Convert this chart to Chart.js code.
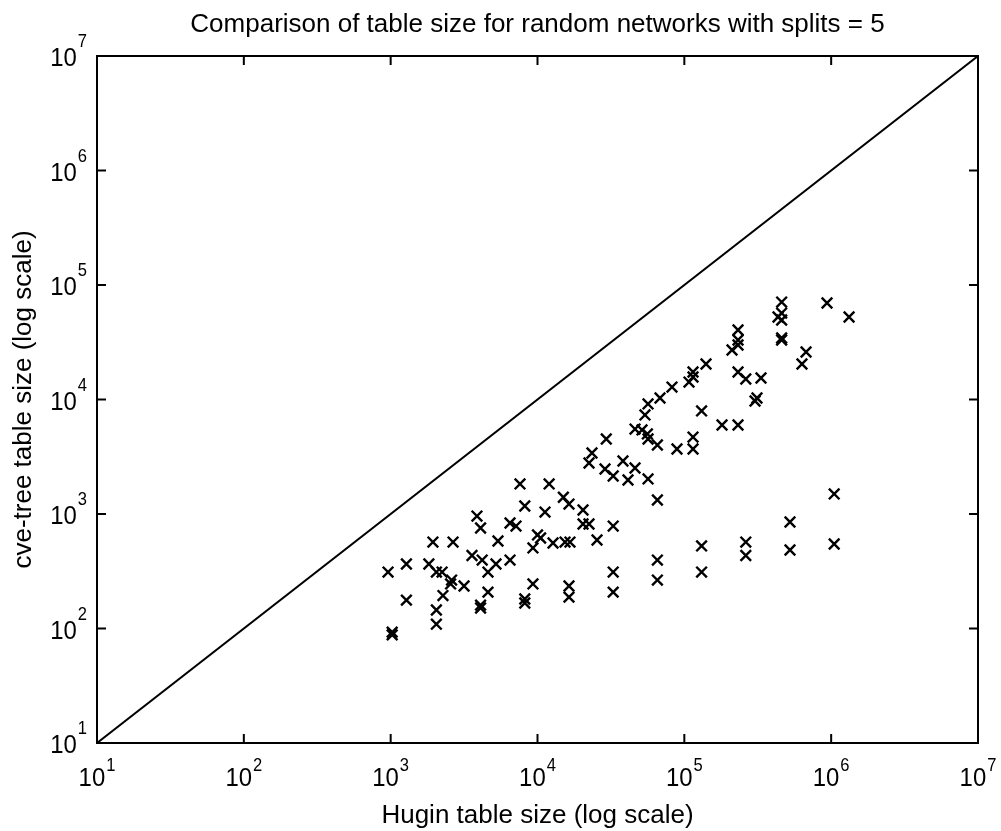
<!DOCTYPE html>
<html>
<head>
<meta charset="utf-8">
<title>Comparison of table size</title>
<script src="https://cdn.jsdelivr.net/npm/chart.js@4.4.1/dist/chart.umd.min.js"></script>
<style>
    html, body { margin: 0; padding: 0; background: #fff; }
    #wrap { width: 1001px; height: 831px; }
</style>
</head>
<body>
<div id="wrap"><canvas id="tableChart" width="1001" height="831"></canvas></div>
<script>
// Hugin table size (x) and cve-tree table size (y) for each random network
const huginSize = [
    7600, 12000, 15000, 8192, 11250, 3870, 4096, 6500, 7140, 5380,
    10000, 10500, 9310, 12760, 15400, 16640, 1940, 2660, 3580, 4200,
    5215, 4600, 6500, 960, 1280, 1820, 2048, 2240, 2600, 2560,
    3160, 2270, 4600, 4096, 4096, 9310, 8192, 8192, 1280, 2048,
    2048, 1024, 1024, 16384, 16384,
    56600, 68300, 53950, 131072, 303000, 180600, 232100, 46150, 51500, 56000,
    56600, 65536, 114600, 114600, 89100, 29400, 23500, 22430, 38200, 46150,
    28830, 32768, 41340, 56600, 65536, 16384, 20420, 20420, 22430, 32768,
    25430, 131072, 262144, 262144, 524288, 524288, 1048576, 1048576, 65536, 32768,
    65536, 131072, 32768,
    460000, 460000, 434500, 460000, 460000, 460000, 937000, 1324000, 232100, 232100,
    232100, 211200, 674400, 632600, 140500, 114600, 114600, 107600, 82400, 232100,
    262144, 332700, 312400
];
const cveTreeSize = [
    1830, 1830, 1400, 1175, 1040, 960, 755, 834, 785, 581,
    656, 617, 505, 558, 569, 569, 569, 569, 434, 396,
    366, 311, 396, 311, 366, 366, 311, 311, 265, 245,
    235, 194, 208, 160, 151, 245, 181, 167, 177, 145,
    109, 93, 88, 235, 188,
    9140, 10310, 7330, 7940, 9700, 5990, 5990, 5520, 5420, 5000,
    4520, 4005, 4700, 3695, 3695, 4520, 3410, 2788, 2904, 2521,
    2472, 2148, 1982, 2023, 1325, 1222, 1084, 818, 818, 785,
    593, 526, 569, 434, 851, 485, 1496, 547, 396, 311,
    265, 311, 208,
    71000, 56900, 52540, 49460, 34450, 33100, 69650, 52540, 40460, 33100,
    29920, 27050, 25990, 20420, 20420, 17390, 15730, 14210, 12850, 17390,
    15100, 15410, 10310
];

// reference line y = x
const diagonalX = [10, 10000000];
const diagonalY = [10, 10000000];

// decade exponents used for ticks and tick labels
const decadeExponents = [1, 2, 3, 4, 5, 6, 7];

const titleText = 'Comparison of table size for random networks with splits = 5';
const xTitleText = 'Hugin table size (log scale)';
const yTitleText = 'cve-tree table size (log scale)';

const fontFamily = "'Liberation Sans', Arial, Helvetica, sans-serif";

const scatterPoints = huginSize.map((x, i) => ({ x: x, y: cveTreeSize[i] }));
const diagonalPoints = diagonalX.map((x, i) => ({ x: x, y: diagonalY[i] }));

// white background, box around the axes, inward decade ticks, 10^n labels
const matlabAxes = {
    id: 'matlabAxes',
    beforeDraw(chart) {
        const ctx = chart.ctx;
        ctx.save();
        ctx.fillStyle = '#fff';
        ctx.fillRect(0, 0, chart.width, chart.height);
        ctx.restore();
    },
    afterDraw(chart) {
        const ctx = chart.ctx;
        const area = chart.chartArea;
        const xs = chart.scales.x;
        const ys = chart.scales.y;
        const tickLen = 9;

        ctx.save();
        ctx.strokeStyle = '#000';
        ctx.lineWidth = 2;
        ctx.strokeRect(area.left, area.top, area.right - area.left, area.bottom - area.top);

        ctx.beginPath();
        decadeExponents.forEach(function (e) {
            const px = xs.getPixelForValue(Math.pow(10, e));
            const py = ys.getPixelForValue(Math.pow(10, e));
            ctx.moveTo(px, area.bottom); ctx.lineTo(px, area.bottom - tickLen);
            ctx.moveTo(px, area.top); ctx.lineTo(px, area.top + tickLen);
            ctx.moveTo(area.left, py); ctx.lineTo(area.left + tickLen, py);
            ctx.moveTo(area.right, py); ctx.lineTo(area.right - tickLen, py);
        });
        ctx.stroke();

        ctx.fillStyle = '#000';
        ctx.textBaseline = 'alphabetic';
        const baseFont = '26px ' + fontFamily;
        const expFont = '18px ' + fontFamily;
        const squeeze = 0.92;

        function drawLabel(left, baseY, expY, e) {
            ctx.font = baseFont;
            const w1 = ctx.measureText('10').width * squeeze;
            ctx.save();
            ctx.translate(left, baseY);
            ctx.scale(squeeze, 1);
            ctx.textAlign = 'left';
            ctx.fillText('10', 0, 0);
            ctx.restore();
            ctx.font = expFont;
            ctx.save();
            ctx.translate(left + w1 + 1, expY);
            ctx.scale(squeeze, 1);
            ctx.textAlign = 'left';
            ctx.fillText(String(e), 0, 0);
            ctx.restore();
        }

        function labelWidth(e) {
            ctx.font = baseFont;
            const w1 = ctx.measureText('10').width * squeeze;
            ctx.font = expFont;
            const w2 = ctx.measureText(String(e)).width * squeeze;
            return w1 + 1 + w2;
        }

        decadeExponents.forEach(function (e) {
            const px = xs.getPixelForValue(Math.pow(10, e));
            const w = labelWidth(e);
            drawLabel(px - w / 2, area.bottom + 43, area.bottom + 28, e);

            const py = ys.getPixelForValue(Math.pow(10, e));
            drawLabel(area.left - 10 - w, py + 10, py - 9, e);
        });
        ctx.restore();
    }
};

new Chart(document.getElementById('tableChart').getContext('2d'), {
    type: 'scatter',
    data: {
        datasets: [{
            label: 'networks',
            data: scatterPoints,
            pointStyle: 'crossRot',
            pointRadius: 7.5,
            pointBorderWidth: 2.4,
            borderColor: '#000',
            backgroundColor: '#000',
            pointHoverRadius: 7.5
        }, {
            label: 'y = x',
            data: diagonalPoints,
            showLine: true,
            borderColor: '#000',
            borderWidth: 2,
            pointRadius: 0,
            pointHoverRadius: 0,
            fill: false
        }]
    },
    options: {
        responsive: false,
        animation: false,
        devicePixelRatio: 1,
        events: [],
        layout: { padding: { top: 0, right: 23, bottom: 0, left: 0 } },
        plugins: {
            legend: { display: false },
            tooltip: { enabled: false },
            title: {
                display: true,
                text: titleText,
                fullSize: false,
                color: '#000',
                font: { family: fontFamily, size: 26, weight: 'normal' },
                padding: { top: 9.4, bottom: 15.4 }
            }
        },
        scales: {
            x: {
                type: 'logarithmic',
                min: 10,
                max: 10000000,
                border: { display: false },
                grid: { display: false, drawTicks: false },
                ticks: { display: false },
                title: {
                    display: true,
                    text: xTitleText,
                    color: '#000',
                    font: { family: fontFamily, size: 26, weight: 'normal' },
                    padding: { top: 56.8, bottom: 0 }
                }
            },
            y: {
                type: 'logarithmic',
                min: 10,
                max: 10000000,
                border: { display: false },
                grid: { display: false, drawTicks: false },
                ticks: { display: false },
                title: {
                    display: true,
                    text: yTitleText,
                    color: '#000',
                    font: { family: fontFamily, size: 26, weight: 'normal' },
                    padding: { top: 8.4, bottom: 57.4 }
                }
            }
        }
    },
    plugins: [matlabAxes]
});
</script>
</body>
</html>
